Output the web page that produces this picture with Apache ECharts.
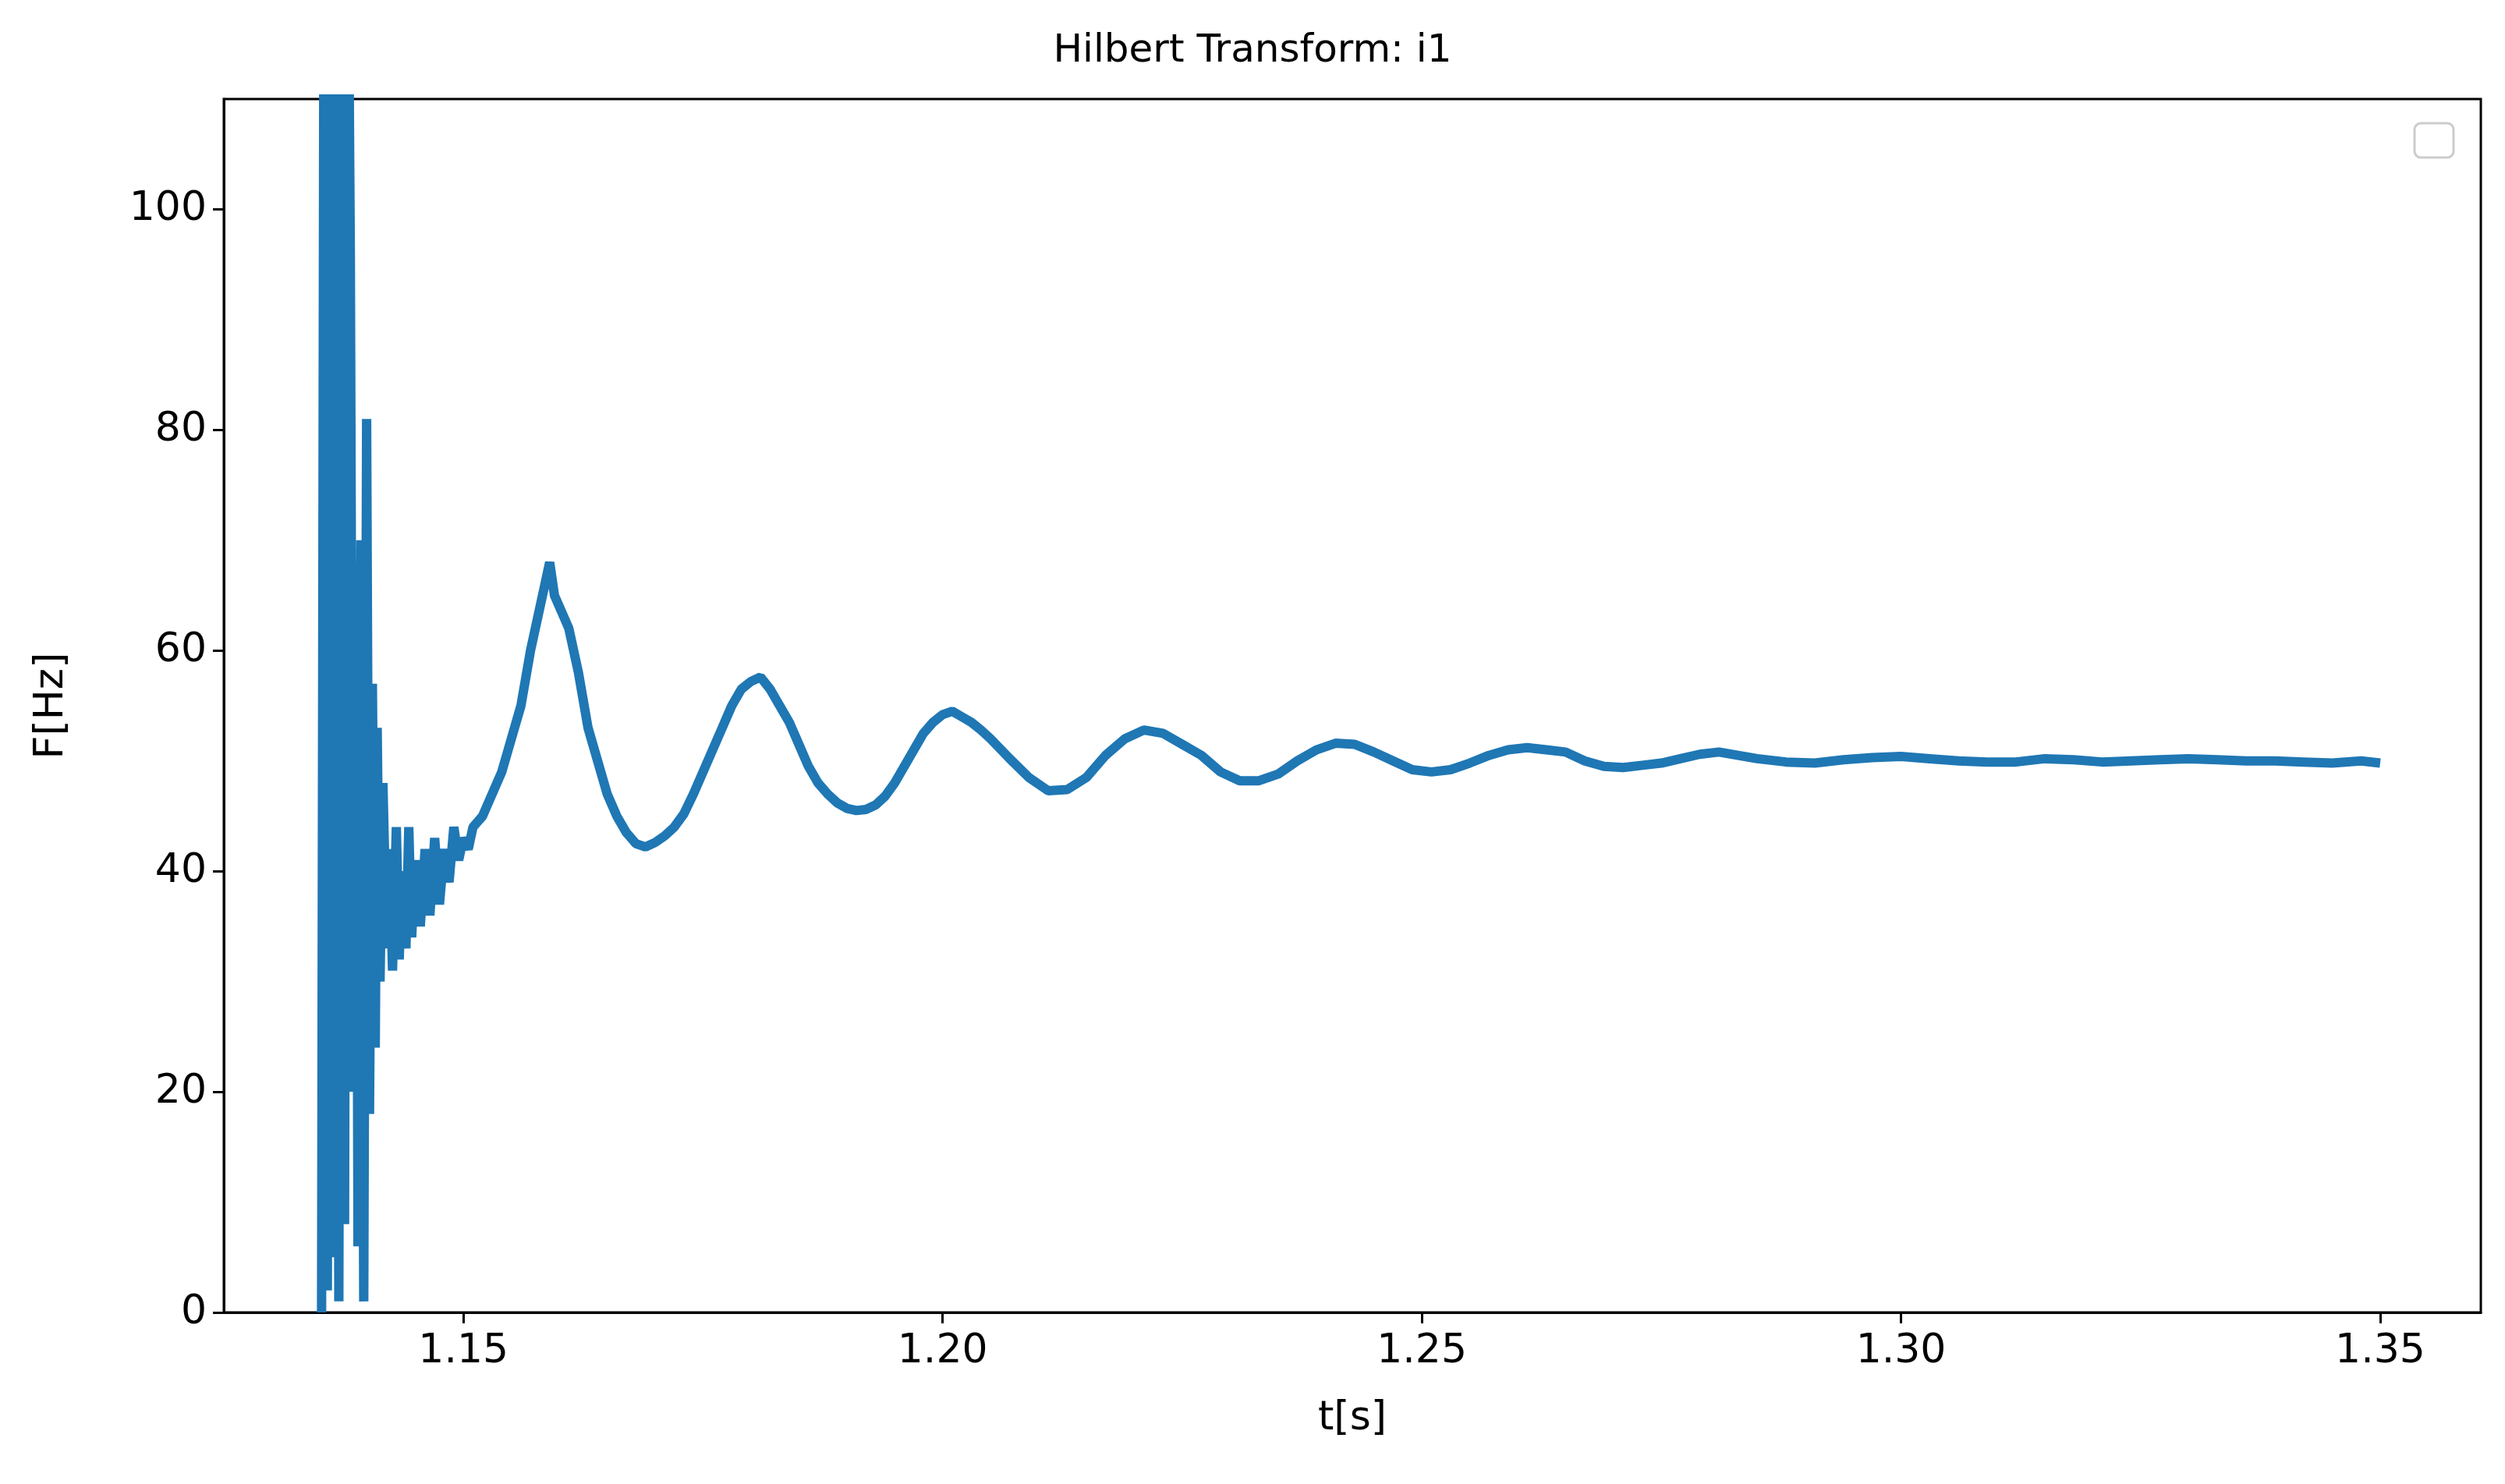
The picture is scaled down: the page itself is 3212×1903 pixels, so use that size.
<!DOCTYPE html>
<html><head><meta charset="utf-8">
<script src="https://cdn.jsdelivr.net/npm/echarts@6/dist/echarts.min.js"></script>
<style>html,body{margin:0;padding:0;background:#fff}#c{width:3212px;height:1903px}</style>
</head><body><div id="c"></div>
<script>
const tValues = [1.1352,1.1355,1.1358,1.1361,1.1364,1.1367,1.137,1.1373,1.1376,1.1379,1.1382,1.1385,1.1388,1.139,1.1393,1.1396,1.1399,1.1402,1.1405,1.1408,1.141,1.1413,1.1416,1.142,1.1423,1.1426,1.143,1.1433,1.1436,1.144,1.1443,1.1446,1.145,1.1455,1.146,1.1465,1.147,1.1475,1.148,1.1485,1.149,1.1495,1.150,1.1505,1.151,1.152,1.153,1.154,1.155,1.156,1.157,1.158,1.1585,1.159,1.1595,1.160,1.161,1.162,1.163,1.164,1.165,1.166,1.167,1.168,1.169,1.170,1.171,1.172,1.173,1.174,1.175,1.176,1.177,1.178,1.179,1.180,1.181,1.182,1.183,1.184,1.185,1.186,1.187,1.188,1.189,1.190,1.191,1.192,1.193,1.194,1.195,1.196,1.197,1.198,1.199,1.200,1.201,1.202,1.203,1.204,1.205,1.207,1.209,1.211,1.213,1.215,1.217,1.219,1.221,1.223,1.225,1.227,1.229,1.231,1.233,1.235,1.237,1.239,1.241,1.243,1.245,1.247,1.249,1.251,1.253,1.255,1.257,1.259,1.261,1.263,1.265,1.267,1.269,1.271,1.273,1.275,1.277,1.279,1.281,1.283,1.285,1.288,1.291,1.294,1.297,1.300,1.303,1.306,1.309,1.312,1.315,1.318,1.321,1.324,1.327,1.330,1.333,1.336,1.339,1.342,1.345,1.348,1.350];
const fValues = [0,150,2,140,5,130,1,120,8,135,96,20,68,6,70,1,81,18,57,24,53,30,48,33,42,31,44,32,40,33,44,34,41,35,42,36,43,37,42,39,44,41,43,42,44,45,47,49,52,55,60,64,66,68,65,64,62,58,53,50,47,45,43.5,42.5,42.2,42.6,43.2,44,45.2,47,49,51,53,55,56.5,57.2,57.6,56.5,55,53.5,51.5,49.5,48,47,46.2,45.7,45.5,45.6,46,46.8,48,49.5,51,52.5,53.5,54.2,54.5,54,53.5,52.8,52,50.2,48.5,47.3,47.4,48.5,50.5,52,52.8,52.5,51.5,50.5,49,48.2,48.2,48.8,50,51,51.6,51.5,50.8,50,49.2,49,49.2,49.8,50.5,51,51.2,51,50.8,50,49.5,49.4,49.6,49.8,50.2,50.6,50.8,50.5,50.2,49.9,49.8,50.1,50.3,50.4,50.2,50,49.9,49.9,50.2,50.1,49.9,50,50.1,50.2,50.1,50,50,49.9,49.8,50.0,49.8];
const xTicks = [1.15,1.20,1.25,1.30,1.35];
const yTicks = [0,20,40,60,80,100];

const data = tValues.map((t,i)=>[t,fValues[i]]).filter(p=>p[1]!==undefined);
const chart = echarts.init(document.getElementById('c'));
const font = 'DejaVu Sans';
const fs = 52;
chart.setOption({
  animation:false,
  backgroundColor:'#fff',
  title:{text:'Hilbert Transform: i1',left:'center',top:36,textStyle:{fontFamily:font,fontSize:50,fontWeight:'normal',color:'#000'}},
  grid:{left:287,right:31,top:127,bottom:220,show:true,borderColor:'#000',borderWidth:3,backgroundColor:'transparent'},
  xAxis:{type:'value',min:1.125,max:1.3605,interval:0.05,
    name:'t[s]',nameLocation:'middle',nameGap:110,nameTextStyle:{fontFamily:font,fontSize:fs,color:'#000'},
    axisLine:{show:true,lineStyle:{color:'#000',width:3}},
    axisTick:{show:true,length:14,lineStyle:{color:'#000',width:3},customValues:xTicks},
    axisLabel:{fontFamily:font,fontSize:fs,color:'#000',margin:24,customValues:xTicks,formatter:v=>v.toFixed(2)},
    splitLine:{show:false}},
  yAxis:{type:'value',min:0,max:110,interval:20,
    name:'F[Hz]',nameLocation:'middle',nameGap:195,nameTextStyle:{fontFamily:font,fontSize:fs,color:'#000'},
    axisLine:{show:true,lineStyle:{color:'#000',width:3}},
    axisTick:{show:true,length:14,lineStyle:{color:'#000',width:3},customValues:yTicks},
    axisLabel:{fontFamily:font,fontSize:fs,color:'#000',margin:22,customValues:yTicks},
    splitLine:{show:false}},
  series:[{type:'line',data:data,showSymbol:false,clip:true,lineStyle:{color:'#1f77b4',width:12},itemStyle:{color:'#1f77b4'}}],
  graphic:[{type:'rect',shape:{x:3096,y:158,width:50,height:44,r:8},style:{fill:'#fff',stroke:'#ccc',lineWidth:3}}]
});
</script></body></html>
